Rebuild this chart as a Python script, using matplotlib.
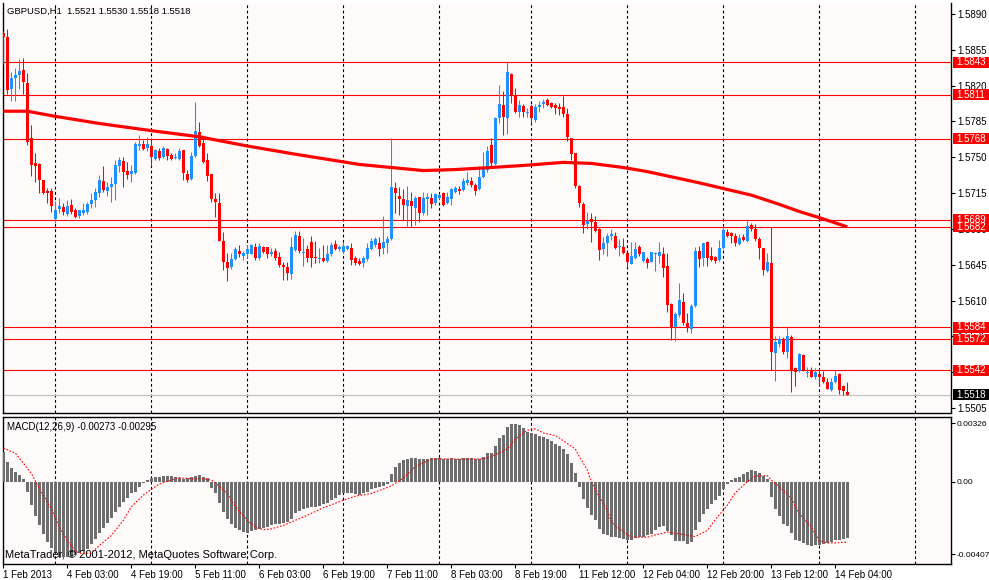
import numpy as np
import matplotlib
matplotlib.use("Agg")
import matplotlib.pyplot as plt
from matplotlib.patches import Rectangle

plt.rcParams['font.family'] = ['Liberation Sans', 'DejaVu Sans']

BG = "#fffafa"
BULL = "#1e90ff"
BEAR = "#ff0000"
HIST = "#6e6e6e"

# ── GBPUSD H1 candles, in pips (price = 1 + v / 10000) ──────────────────────
opens = [
    5871, 5868, 5817, 5827, 5830, 5835, 5823, 5769, 5744, 5743,
    5728, 5717, 5717, 5690, 5699, 5701, 5695, 5703, 5698, 5693,
    5696, 5697, 5704, 5708, 5715, 5727, 5717, 5721, 5724, 5741,
    5746, 5737, 5734, 5735, 5761, 5763, 5759, 5761, 5748, 5756,
    5750, 5758, 5752, 5749, 5748, 5757, 5734, 5729, 5751, 5775,
    5764, 5747, 5734, 5709, 5705, 5668, 5648, 5643, 5651, 5658,
    5654, 5655, 5655, 5662, 5652, 5662, 5662, 5655, 5658, 5653,
    5645, 5643, 5636, 5659, 5673, 5656, 5660, 5667, 5653, 5651,
    5652, 5649, 5655, 5665, 5660, 5657, 5660, 5661, 5652, 5649,
    5647, 5651, 5660, 5664, 5666, 5661, 5666, 5670, 5720, 5712,
    5709, 5702, 5707, 5700, 5711, 5696, 5709, 5710, 5705, 5710,
    5715, 5705, 5709, 5716, 5719, 5718, 5725, 5727, 5723, 5719,
    5731, 5738, 5762, 5743, 5788, 5801, 5788, 5831, 5811, 5794,
    5800, 5793, 5800, 5786, 5799, 5802, 5806, 5803, 5801, 5799,
    5799, 5792, 5769, 5754, 5722, 5704, 5685, 5690, 5687, 5680,
    5660, 5666, 5673, 5673, 5662, 5662, 5656, 5646, 5652, 5662,
    5649, 5651, 5648, 5655, 5654, 5655, 5644, 5607, 5584, 5596,
    5609, 5588, 5582, 5605, 5658, 5652, 5667, 5654, 5653, 5650,
    5661, 5677, 5676, 5673, 5665, 5672, 5668, 5684, 5680, 5670,
    5661, 5639, 5647, 5559, 5568, 5571, 5560, 5574, 5544, 5541,
    5557, 5539, 5541, 5535, 5538, 5535, 5530, 5523, 5530, 5538,
    5526, 5521]
highs = [
    5873, 5875, 5833, 5837, 5846, 5847, 5832, 5782, 5754, 5744,
    5728, 5720, 5720, 5707, 5710, 5705, 5708, 5709, 5700, 5698,
    5705, 5706, 5715, 5720, 5733, 5741, 5726, 5731, 5747, 5750,
    5750, 5745, 5742, 5765, 5772, 5767, 5770, 5767, 5758, 5759,
    5761, 5759, 5754, 5754, 5759, 5757, 5738, 5755, 5804, 5784,
    5769, 5754, 5734, 5715, 5715, 5677, 5656, 5656, 5662, 5664,
    5658, 5664, 5665, 5666, 5666, 5663, 5662, 5661, 5661, 5657,
    5648, 5648, 5672, 5678, 5678, 5671, 5664, 5673, 5668, 5661,
    5664, 5664, 5667, 5669, 5664, 5667, 5664, 5666, 5654, 5652,
    5654, 5666, 5671, 5672, 5672, 5693, 5673, 5769, 5726, 5721,
    5719, 5722, 5716, 5712, 5711, 5716, 5715, 5715, 5715, 5714,
    5716, 5716, 5720, 5722, 5722, 5730, 5736, 5731, 5725, 5741,
    5755, 5761, 5769, 5789, 5821, 5815, 5843, 5832, 5818, 5806,
    5802, 5798, 5802, 5802, 5805, 5807, 5808, 5804, 5803, 5803,
    5810, 5798, 5769, 5754, 5723, 5706, 5697, 5696, 5693, 5681,
    5672, 5676, 5680, 5677, 5670, 5671, 5657, 5667, 5667, 5664,
    5657, 5653, 5657, 5657, 5667, 5662, 5656, 5608, 5599, 5627,
    5617, 5598, 5607, 5662, 5663, 5666, 5668, 5662, 5654, 5669,
    5683, 5680, 5677, 5676, 5675, 5675, 5689, 5686, 5685, 5672,
    5661, 5656, 5682, 5575, 5575, 5574, 5584, 5576, 5545, 5559,
    5558, 5545, 5545, 5544, 5544, 5541, 5534, 5534, 5542, 5539,
    5527, 5530]
lows = [
    5841, 5812, 5805, 5805, 5817, 5812, 5762, 5732, 5726, 5715,
    5714, 5705, 5697, 5686, 5696, 5694, 5693, 5695, 5691, 5691,
    5694, 5695, 5700, 5701, 5711, 5716, 5712, 5706, 5708, 5736,
    5721, 5729, 5726, 5734, 5757, 5757, 5756, 5741, 5747, 5747,
    5749, 5747, 5747, 5748, 5747, 5728, 5726, 5728, 5750, 5760,
    5744, 5727, 5706, 5692, 5668, 5640, 5629, 5641, 5650, 5653,
    5650, 5652, 5655, 5650, 5650, 5656, 5652, 5654, 5650, 5643,
    5630, 5630, 5631, 5658, 5656, 5644, 5648, 5643, 5647, 5647,
    5648, 5648, 5654, 5659, 5658, 5656, 5659, 5645, 5645, 5645,
    5643, 5649, 5659, 5662, 5654, 5655, 5656, 5669, 5696, 5694,
    5689, 5682, 5682, 5684, 5687, 5694, 5694, 5700, 5703, 5709,
    5702, 5704, 5703, 5715, 5714, 5717, 5723, 5721, 5713, 5718,
    5730, 5736, 5741, 5742, 5783, 5772, 5773, 5803, 5793, 5789,
    5789, 5789, 5783, 5784, 5794, 5798, 5800, 5798, 5792, 5791,
    5789, 5766, 5747, 5720, 5701, 5676, 5680, 5667, 5677, 5650,
    5655, 5654, 5669, 5660, 5654, 5655, 5643, 5646, 5651, 5654,
    5648, 5642, 5648, 5639, 5647, 5633, 5599, 5571, 5570, 5594,
    5586, 5579, 5578, 5604, 5643, 5644, 5644, 5649, 5647, 5649,
    5660, 5672, 5666, 5663, 5664, 5668, 5667, 5678, 5668, 5651,
    5635, 5638, 5542, 5531, 5565, 5558, 5554, 5521, 5526, 5540,
    5541, 5535, 5535, 5533, 5526, 5529, 5524, 5522, 5529, 5519,
    5518, 5518]
closes = [
    5868, 5816, 5827, 5830, 5834, 5824, 5765, 5742, 5741, 5728,
    5715, 5715, 5702, 5698, 5702, 5697, 5702, 5697, 5692, 5698,
    5698, 5704, 5708, 5716, 5728, 5718, 5721, 5724, 5742, 5747,
    5736, 5733, 5737, 5763, 5763, 5758, 5763, 5750, 5757, 5749,
    5759, 5751, 5748, 5750, 5756, 5735, 5728, 5751, 5776, 5761,
    5745, 5732, 5709, 5706, 5668, 5648, 5642, 5651, 5660, 5655,
    5656, 5660, 5664, 5652, 5663, 5657, 5655, 5657, 5652, 5645,
    5643, 5637, 5662, 5674, 5658, 5657, 5652, 5652, 5652, 5652,
    5649, 5655, 5664, 5660, 5662, 5663, 5663, 5650, 5647, 5646,
    5652, 5661, 5668, 5670, 5660, 5667, 5670, 5721, 5715, 5709,
    5703, 5708, 5702, 5710, 5696, 5710, 5711, 5704, 5714, 5713,
    5703, 5711, 5719, 5720, 5717, 5727, 5728, 5723, 5717, 5731,
    5739, 5756, 5744, 5788, 5802, 5789, 5833, 5811, 5794, 5801,
    5794, 5794, 5788, 5799, 5801, 5804, 5801, 5799, 5798, 5797,
    5792, 5770, 5753, 5722, 5705, 5684, 5688, 5687, 5678, 5659,
    5666, 5673, 5675, 5661, 5663, 5656, 5648, 5654, 5660, 5655,
    5657, 5647, 5657, 5656, 5657, 5642, 5606, 5583, 5597, 5611,
    5588, 5583, 5605, 5658, 5651, 5666, 5652, 5650, 5649, 5661,
    5679, 5673, 5673, 5666, 5671, 5669, 5683, 5680, 5670, 5661,
    5640, 5648, 5560, 5569, 5572, 5560, 5575, 5541, 5540, 5558,
    5542, 5540, 5535, 5540, 5535, 5530, 5524, 5530, 5536, 5523,
    5522, 5518]

# moving average, read at some bars (pips)
ma_bars = [0, 6, 13, 24, 37, 49, 61, 73, 81, 89, 97, 105, 113, 122, 130,
           140, 147, 155, 161, 174, 187, 194, 199, 204, 211]
ma_pips = [5795, 5795, 5790, 5783, 5776, 5770, 5761, 5753, 5748, 5743, 5740,
           5737, 5738, 5740, 5742, 5745, 5744, 5740, 5736, 5725, 5713, 5704,
           5697, 5691, 5682]

# MACD(12,26,9) main histogram, in 1e-5
macd = [
    164, 113, 79, 56, 38, 15, -56, -132, -194, -245,
    -292, -335, -371, -401, -424, -424, -424, -420, -409, -401,
    -386, -377, -348, -320, -288, -258, -232, -201, -169, -141,
    -113, -89, -66, -56, -28, -6, 9, 19, 24, 28,
    32, 32, 32, 28, 23, 13, 19, 28, 34, 38,
    28, 19, -34, -66, -119, -169, -207, -235, -258, -273,
    -282, -288, -277, -269, -264, -258, -254, -245, -239, -235,
    -232, -226, -211, -173, -162, -151, -145, -143, -139, -136,
    -126, -117, -100, -89, -75, -66, -62, -62, -70, -75,
    -66, -56, -43, -34, -28, -23, -13, 43, 85, 107,
    119, 126, 130, 132, 128, 128, 128, 130, 132, 132,
    128, 128, 130, 128, 126, 130, 134, 132, 128, 128,
    141, 160, 160, 201, 245, 260, 307, 324, 322, 320,
    301, 277, 273, 269, 258, 249, 239, 226, 213, 198,
    183, 156, 107, 47, -28, -96, -145, -188, -217, -267,
    -292, -301, -307, -311, -316, -320, -326, -326, -314, -311,
    -311, -301, -292, -269, -254, -250, -277, -301, -330, -333,
    -330, -348, -339, -269, -226, -183, -151, -126, -104, -79,
    -43, -15, 9, 19, 28, 43, 56, 66, 60, 51,
    32, 13, -85, -151, -194, -235, -250, -288, -326, -330,
    -345, -354, -358, -354, -352, -348, -345, -335, -324, -324,
    -320, -314]

# signal line, read at some bars (1e-5)
sig_bars = [0, 3, 5, 7, 9, 12, 14, 16, 18, 19, 22, 23, 25, 27, 30, 32, 35, 37,
            39, 42, 44, 47, 49, 52, 53, 56, 58, 61, 63, 65, 67, 70, 72, 76, 80,
            85, 88, 92, 97, 100, 103, 107, 110, 115, 120, 122, 126, 128, 131,
            133, 135, 138, 140, 143, 144, 146, 147, 149, 151, 152, 154, 156,
            157, 161, 163, 166, 168, 171, 173, 176, 178, 181, 183, 186, 188,
            191, 192, 194, 197, 199, 202, 204, 206, 208, 210, 211]
sig_vals = [188, 160, 104, 47, -38, -151, -254, -330, -386, -401, -401, -377,
            -339, -301, -217, -141, -75, -43, -13, 9, 23, 15, 19, 9, -6, -66,
            -141, -217, -254, -269, -264, -245, -226, -188, -146, -104, -81,
            -66, -24, 19, 85, 126, 128, 126, 128, 141, 183, 239, 288, 296, 273,
            258, 230, 183, 141, 66, 0, -85, -160, -226, -264, -296, -311, -311,
            -298, -282, -288, -301, -307, -273, -213, -132, -62, 0, 32, 34, 9,
            -28, -94, -179, -254, -330, -343, -343, -339, -339]

# horizontal levels and bid
levels = [1.5843, 1.5811, 1.5768, 1.5689, 1.5682, 1.5584, 1.5572, 1.5542]
bid = 1.5518

# day separators (bar index of 00:00) and time-axis labels
day_starts = [13, 37, 61, 85, 109, 132, 156, 180, 204, 228]
time_ticks = [0, 16, 32, 48, 64, 80, 96, 112, 128, 144, 160, 176, 192, 208]
time_labels = ["1 Feb 2013", "4 Feb 03:00", "4 Feb 19:00", "5 Feb 11:00",
               "6 Feb 03:00", "6 Feb 19:00", "7 Feb 11:00", "8 Feb 03:00",
               "8 Feb 19:00", "11 Feb 12:00", "12 Feb 04:00", "12 Feb 20:00",
               "13 Feb 12:00", "14 Feb 04:00"]

price_ticks = [1.5505, 1.5540, 1.5575, 1.5610, 1.5645, 1.5680, 1.5715,
               1.5750, 1.5785, 1.5820, 1.5855, 1.5890]
macd_ticks = [0.00326, 0.0, -0.00407]
macd_tick_labels = ["0.00326", "0.00", "-0.00407"]


W, H = 989, 580
fig = plt.figure(figsize=(W / 100, H / 100), dpi=100)
fig.patch.set_facecolor("white")

ax = fig.add_axes([3 / W, 1 - 413 / H, 948 / W, 410 / H])
ax2 = fig.add_axes([3 / W, 1 - 564 / H, 948 / W, 147 / H])

o = 1 + np.array(opens) / 1e4
h = 1 + np.array(highs) / 1e4
l = 1 + np.array(lows) / 1e4
c = 1 + np.array(closes) / 1e4
idx = np.arange(len(c))
up = c >= o
cols = np.where(up, BULL, BEAR)

for a in (ax, ax2):
    a.set_facecolor(BG)
    a.set_xlim(-0.075, 236.925)
    for s in a.spines.values():
        s.set_color("black")
        s.set_linewidth(1.0)
    for d in day_starts:
        a.axvline(d, color="black", lw=0.8, dashes=(2.6, 2.2), zorder=1)
    a.yaxis.tick_right()
    a.tick_params(axis="y", direction="out", length=3, width=0.8,
                  pad=1.5, labelsize=7, colors="black")

ax.spines["top"].set_visible(False)

# candles
ax.vlines(idx, l, h, colors=cols, lw=0.75, zorder=3)
body = np.maximum(np.abs(c - o), 0.00008)
ax.bar(idx, body, bottom=np.minimum(o, c), width=0.75, color=cols,
       linewidth=0, zorder=4)

# moving average
ax.plot(ma_bars, 1 + np.array(ma_pips) / 1e4, color=BEAR, lw=2.3,
        solid_capstyle="butt", zorder=5)

for lv in levels:
    ax.axhline(lv, color=BEAR, lw=0.8, zorder=2)
ax.axhline(bid, color="#c0c0c0", lw=0.8, zorder=2)

ax.set_ylim(1.55001, 1.590075)
ax.set_yticks(price_ticks)
ax.set_yticklabels([f"{p:.4f}" for p in price_ticks])
ax.set_xticks([])

ax.text(4 / 948, (413 - 11) / 410, "GBPUSD,H1  1.5521 1.5530 1.5518 1.5518",
        fontsize=6.8, va="center", ha="left", transform=ax.transAxes)

# MACD
mv = np.array(macd) / 1e5
ax2.bar(idx, mv, width=0.75, color=HIST, linewidth=0, zorder=3)
ax2.plot(sig_bars, np.array(sig_vals) / 1e5, color=BEAR, lw=0.8,
         dashes=(1.5, 1.5), zorder=4)
ax2.set_ylim(-0.004609, 0.003623)
ax2.set_yticks(macd_ticks)
ax2.set_yticklabels(macd_tick_labels)
ax2.tick_params(axis="y", labelsize=6.0, pad=0.8)
ax2.set_xticks(time_ticks)
ax2.set_xticklabels(time_labels, ha="left")
ax2.tick_params(axis="x", direction="out", length=3, width=0.8, pad=1.5,
                labelsize=7)

ax2.text(0.004, 0.93, "MACD(12,26,9) -0.00273 -0.00295", fontsize=7,
         transform=ax2.transAxes, va="center", ha="left")
ax2.text(0.002, 0.06, "MetaTrader, \u00a9 2001-2012, MetaQuotes Software Corp.",
         fontsize=8, transform=ax2.transAxes, va="center", ha="left")

# price tags on the right scale
fig.canvas.draw()


def price_tag(price, face):
    y = ax.transData.transform((0, price))[1] / H
    fig.add_artist(Rectangle((953 / W, y - 5.5 / H), 36 / W, 11 / H,
                             transform=fig.transFigure, facecolor=face,
                             edgecolor="none", zorder=5))
    fig.text(956 / W, y, f"{price:.4f}", color="white", fontsize=7,
             va="center", ha="left", zorder=6)


for lv in levels:
    price_tag(lv, BEAR)
price_tag(bid, "black")

fig.savefig("out.png", dpi=100, facecolor=fig.get_facecolor())
